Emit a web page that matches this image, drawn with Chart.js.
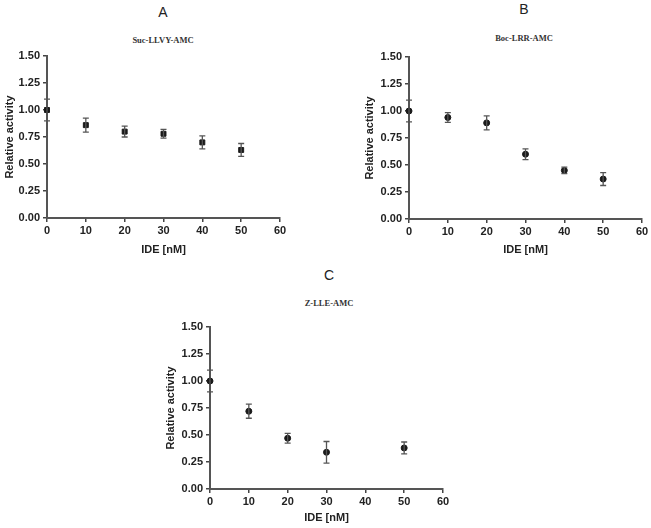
<!DOCTYPE html>
<html>
<head>
<meta charset="utf-8">
<script src="https://cdn.jsdelivr.net/npm/chart.js@4"></script>
<style>
  html, body { margin: 0; padding: 0; background: #ffffff; }
  body { width: 651px; height: 528px; position: relative; overflow: hidden; }
  canvas { position: absolute; }
  .lbl { position: absolute; transform: translate(-50%, -50%); white-space: nowrap; color: #222; }
  .panel { font-family: "Liberation Sans", Arial, sans-serif; font-size: 14px; }
  .sub { font-family: "Liberation Serif", "DejaVu Serif", serif; font-weight: bold; font-size: 8.5px; color: #333; }
</style>
</head>
<body>
<div class="lbl panel" style="left:163px; top:12px;">A</div>
<div class="lbl sub" style="left:163px; top:40px;">Suc-LLVY-AMC</div>
<div class="lbl panel" style="left:524px; top:9px;">B</div>
<div class="lbl sub" style="left:524px; top:38px;">Boc-LRR-AMC</div>
<div class="lbl panel" style="left:329px; top:275px;">C</div>
<div class="lbl sub" style="left:329px; top:303px;">Z-LLE-AMC</div>

<canvas id="cA" width="300" height="260" style="left:0px; top:0px;"></canvas>
<canvas id="cB" width="289" height="260" style="left:362px; top:0px;"></canvas>
<canvas id="cC" width="300" height="266" style="left:163px; top:262px;"></canvas>

<script>
// ---- data ----
const dosesAB = [0, 10, 20, 30, 40, 50];
const activityA = [1.00, 0.86, 0.80, 0.78, 0.70, 0.63];
const errorA    = [0.10, 0.065, 0.05, 0.04, 0.06, 0.06];
const activityB = [1.00, 0.94, 0.89, 0.60, 0.45, 0.37];
const errorB    = [0.10, 0.045, 0.065, 0.05, 0.03, 0.06];
const dosesC    = [0, 10, 20, 30, 50];
const activityC = [1.00, 0.72, 0.47, 0.34, 0.38];
const errorC    = [0.10, 0.065, 0.045, 0.10, 0.055];
const xLabel = 'IDE [nM]';
const yLabel = 'Relative activity';

const errorBarPlugin = {
  id: 'errorBars',
  afterDatasetsDraw(chart) {
    const ctx = chart.ctx;
    const xs = chart.scales.x, ys = chart.scales.y;
    chart.data.datasets.forEach(ds => {
      ctx.save();
      ctx.strokeStyle = '#555';
      ctx.lineWidth = 1.3;
      ds.data.forEach((p, i) => {
        const e = ds.errors[i];
        const px = xs.getPixelForValue(p.x);
        const y1 = ys.getPixelForValue(p.y + e);
        const y2 = ys.getPixelForValue(p.y - e);
        const cap = 3;
        ctx.beginPath();
        ctx.moveTo(px, y1); ctx.lineTo(px, y2);
        ctx.moveTo(px - cap, y1); ctx.lineTo(px + cap, y1);
        ctx.moveTo(px - cap, y2); ctx.lineTo(px + cap, y2);
        ctx.stroke();
      });
      ctx.restore();
    });
  }
};

function makeChart(id, xs, ys, errs, opts) {
  const pts = xs.map((x, i) => ({ x: x, y: ys[i] }));
  const tickFont = { family: '"Liberation Sans", Arial, sans-serif', size: 11, weight: 'bold' };
  const titleFont = { family: '"Liberation Sans", Arial, sans-serif', size: 11, weight: 'bold' };
  return new Chart(document.getElementById(id), {
    type: 'scatter',
    data: {
      datasets: [{
        data: pts,
        errors: errs,
        pointStyle: opts.pointStyle,
        pointRadius: opts.pointRadius,
        pointBackgroundColor: '#1a1a1a',
        pointBorderColor: '#1a1a1a',
        pointBorderWidth: 1,
        showLine: false,
        clip: false
      }]
    },
    options: {
      responsive: false,
      animation: false,
      devicePixelRatio: 1,
      layout: { padding: opts.padding },
      plugins: { legend: { display: false }, tooltip: { enabled: false }, title: { display: false } },
      scales: {
        x: {
          type: 'linear', min: 0, max: 60,
          ticks: { stepSize: 10, color: '#222', font: tickFont, padding: 2, maxRotation: 0 },
          grid: { display: true, drawOnChartArea: false, drawTicks: true, tickLength: 4, color: '#444', lineWidth: 1.5 },
          border: { display: true, color: '#555', width: 2 },
          title: { display: true, text: xLabel, color: '#222', font: titleFont, padding: { top: 0, bottom: opts.xTitlePad } },
          afterFit: s => { s.height = opts.xHeight; }
        },
        y: {
          type: 'linear', min: 0, max: 1.5,
          ticks: { stepSize: 0.25, color: '#222', font: tickFont, padding: 3, callback: v => v.toFixed(2) },
          grid: { display: true, drawOnChartArea: false, drawTicks: true, tickLength: 4, color: '#444', lineWidth: 1.5 },
          border: { display: true, color: '#555', width: 2 },
          title: { display: true, text: yLabel, color: '#222', font: titleFont, padding: { top: opts.yTitlePad, bottom: 0 } },
          afterFit: s => { s.width = 47; }
        }
      }
    },
    plugins: [errorBarPlugin]
  });
}

makeChart('cA', dosesAB, activityA, errorA, {
  pointStyle: 'rect', pointRadius: 3.5,
  padding: { left: 0, right: 20, top: 56, bottom: 0 },
  xHeight: 42, xTitlePad: 3, yTitlePad: 3
});
makeChart('cB', dosesAB, activityB, errorB, {
  pointStyle: 'circle', pointRadius: 3,
  padding: { left: 0, right: 9, top: 57, bottom: 0 },
  xHeight: 41, xTitlePad: 3, yTitlePad: 1
});
makeChart('cC', dosesC, activityC, errorC, {
  pointStyle: 'circle', pointRadius: 3,
  padding: { left: 0, right: 20, top: 65, bottom: 0 },
  xHeight: 39, xTitlePad: 3, yTitlePad: 1
});
</script>
</body>
</html>
